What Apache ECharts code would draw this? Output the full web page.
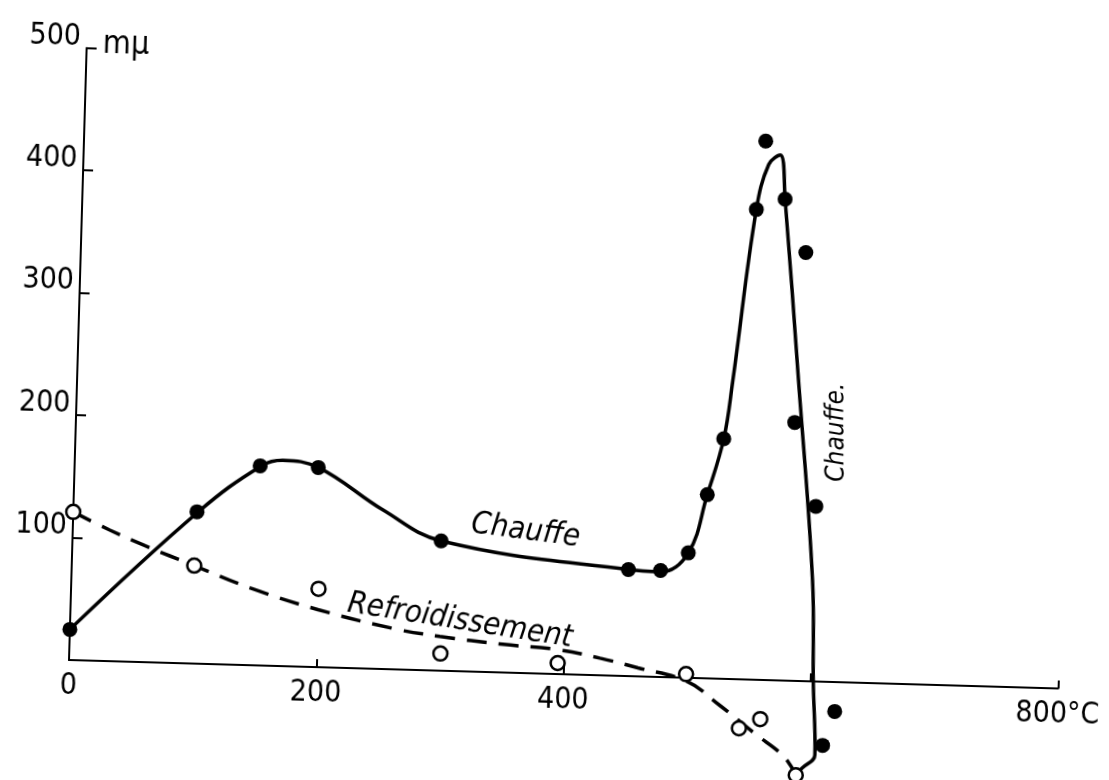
<!DOCTYPE html>
<html>
<head>
<meta charset="utf-8">
<script src="https://cdn.jsdelivr.net/npm/echarts@6/dist/echarts.min.js"></script>
<style>
  html, body { margin: 0; padding: 0; background: #fff; overflow: hidden; }
  /* the printed figure sits slightly askew on the page */
  #chart { width: 1109px; height: 780px; transform-origin: 69px 660px; transform: rotate(1.65deg); }
</style>
</head>
<body>
<div id="chart"></div>
<script>
// Heating run: measured points (temperature °C, value mμ)
const heatT = [0, 100, 150, 197, 298, 450, 476, 498, 512, 524, 545, 551, 568, 586, 581, 600, 620, 611];
const heatV = [25, 124, 163, 163, 106, 87, 87, 102, 150, 196, 384, 440, 393, 350, 211, 143, -24, -52];

// Cooling run: measured points
const coolT = [0, 99, 200, 300, 395, 499, 543, 560, 590];
const coolV = [121, 80, 64, 14, 9, 3, -40, -32, -77];

// Hand-drawn curve through the heating points
const heatCurveT = [0, 101, 151, 168, 197, 250, 298, 450, 476, 498, 512, 524, 530, 545, 554, 563, 568, 583, 599, 602, 605, 595, 590];
const heatCurveV = [25, 124, 163, 168, 163, 130, 106, 87, 86, 102, 150, 196, 244, 384, 421, 429, 393, 246, 83, 0, -60, -71, -77];

// Hand-drawn (dashed) curve through the cooling points
const coolCurveT = [0, 30, 59, 99, 145, 200, 263, 299, 350, 394, 429, 460, 500, 526, 556, 580, 590];
const coolCurveV = [121, 107, 95, 80, 63, 47, 33, 28, 23, 20, 14, 7, -3, -21, -44, -62, -77];

// Axis ticks and labels
const xTickValues = [200, 400, 600, 800];
const xLabelValues = [0, 200, 400, 800];
const yTickValues = [100, 200, 300, 400, 500];
const yLabelValues = [100, 200, 300, 400, 500];

const FONT = "'DejaVu Sans Condensed', 'Liberation Sans Narrow', 'DejaVu Sans', sans-serif";
const INK = '#000';

const pair = (xs, ys) => xs.map((x, i) => [x, ys[i]]);

const chart = echarts.init(document.getElementById('chart'), null, { renderer: 'canvas' });

const option = {
  animation: false,
  backgroundColor: '#fff',
  // the plot frame runs from 0 to 500 mμ; points below 0 are drawn past its lower edge
  grid: { left: 69, top: 47.8, width: 989.5, height: 612.2, containLabel: false, outerBoundsMode: 'none' },
  xAxis: {
    type: 'value', min: 0, max: 800,
    axisLine: { show: true, onZero: false, lineStyle: { color: INK, width: 2 } },
    axisTick: { show: true, inside: true, length: 8, customValues: xTickValues, lineStyle: { color: INK, width: 2 } },
    axisLabel: {
      customValues: xLabelValues,
      formatter: v => (v === 800 ? '800°C' : String(v)),
      margin: 11, color: INK, fontFamily: FONT, fontSize: 30
    },
    splitLine: { show: false }
  },
  yAxis: {
    type: 'value', min: 0, max: 500,
    axisLine: { show: true, lineStyle: { color: INK, width: 2 } },
    axisTick: { show: true, inside: true, length: 10, customValues: yTickValues, lineStyle: { color: INK, width: 2 } },
    axisLabel: {
      customValues: yLabelValues,
      margin: 6, color: INK, fontFamily: FONT, fontSize: 30,
      verticalAlign: 'bottom', lineHeight: 22
    },
    splitLine: { show: false }
  },
  series: [
    {
      name: 'Chauffe',
      type: 'line',
      data: pair(heatCurveT, heatCurveV),
      smooth: 0.4,
      showSymbol: false,
      symbol: 'none',
      clip: false,
      lineStyle: { color: INK, width: 3.5 },
      z: 2,
      silent: true
    },
    {
      name: 'Refroidissement',
      type: 'line',
      data: pair(coolCurveT, coolCurveV),
      smooth: 0.4,
      showSymbol: false,
      symbol: 'none',
      clip: false,
      lineStyle: { color: INK, width: 3.5, type: [20, 12] },
      z: 2,
      silent: true
    },
    {
      name: 'Chauffe (mesures)',
      type: 'scatter',
      data: pair(heatT, heatV),
      symbol: 'circle',
      symbolSize: 15,
      clip: false,
      itemStyle: { color: INK, opacity: 1 },
      z: 4,
      silent: true
    },
    {
      name: 'Refroidissement (mesures)',
      type: 'scatter',
      data: pair(coolT, coolV),
      symbol: 'circle',
      symbolSize: 14,
      clip: false,
      itemStyle: { color: '#fff', borderColor: INK, borderWidth: 2.5, opacity: 1 },
      z: 5,
      silent: true
    }
  ]
};

chart.setOption(option);

// Curve names and unit written on the figure, anchored in data coordinates
const at = p => chart.convertToPixel({ gridIndex: 0 }, p);
const note = (text, p, rot, size, upright) => {
  const [x, y] = at(p);
  return {
    type: 'text', x, y, rotation: rot, silent: true,
    style: {
      text, fill: INK, fontFamily: FONT, fontSize: size, fontStyle: upright ? 'normal' : 'italic',
      align: upright ? 'left' : 'center', verticalAlign: 'middle'
    }
  };
};

chart.setOption({
  graphic: [
    note('Chauffe', [366, 116], -0.099, 31),
    note('Refroidissement', [315, 41], -0.127, 31),
    note('Chauffe.', [615, 204], Math.PI / 2 + 0.03, 26),
    note('mμ', [13, 503], 0, 32, true)
  ]
});
</script>
</body>
</html>
